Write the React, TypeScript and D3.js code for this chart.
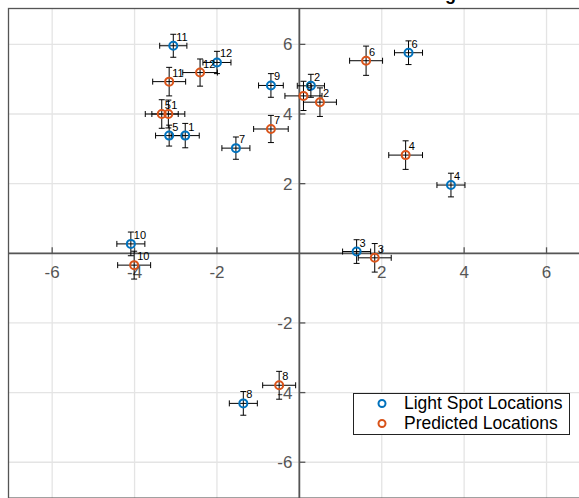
import React from "react";
import * as d3 from "d3";

const ids = ["1", "2", "3", "4", "5", "6", "7", "8", "9", "10", "11", "12"];

// light spot (measured) locations
const spotX = [-2.77, 0.28, 1.39, 3.68, -3.16, 2.65, -1.54, -1.36, -0.69, -4.09, -3.06, -2.0];
const spotY = [3.38, 4.81, 0.05, 1.96, 3.38, 5.76, 3.02, -4.31, 4.82, 0.27, 5.96, 5.48];
const spotErrX = [0.34, 0.33, 0.34, 0.34, 0.33, 0.34, 0.34, 0.34, 0.3, 0.34, 0.33, 0.34];
const spotErrY = [0.35, 0.33, 0.34, 0.34, 0.3, 0.34, 0.32, 0.34, 0.34, 0.34, 0.33, 0.32];

// predicted locations
const predX = [-3.18, 0.5, 1.83, 2.58, -3.34, 1.62, -0.69, -0.49, 0.1, -4.01, -3.16, -2.41];
const predY = [4.0, 4.34, -0.13, 2.82, 4.0, 5.53, 3.57, -3.79, 4.52, -0.34, 4.93, 5.19];
const predErrX = [0.4, 0.4, 0.4, 0.41, 0.4, 0.4, 0.42, 0.4, 0.45, 0.4, 0.4, 0.42];
const predErrY = [0.4, 0.41, 0.41, 0.41, 0.41, 0.42, 0.39, 0.4, 0.42, 0.4, 0.41, 0.39];

const tickVals = [-6, -4, -2, 2, 4, 6];
const gridVals = [-6, -4, -2, 0, 2, 4, 6];
const legendNames = ["Light Spot Locations", "Predicted Locations"];

const W = 579;
const H = 498;
const BLUE = "#0072BD";
const ORANGE = "#D95319";
const FONT = "'Liberation Sans', Arial, Helvetica, sans-serif";

const x = d3.scaleLinear().domain([-7.06, 7.06]).range([8.5, 590.2]);
const y = d3.scaleLinear().domain([-7.03, 7.03]).range([498.1, 8.5]);

type Pt = { id: string; x: number; y: number; ex: number; ey: number };

const makePts = (xs: number[], ys: number[], exs: number[], eys: number[]): Pt[] =>
  ids.map((id, i) => ({ id, x: xs[i], y: ys[i], ex: exs[i], ey: eys[i] }));

const Series = ({ pts, color }: { pts: Pt[]; color: string }) => {
  const cap = 3;
  return (
    <g>
      {pts.map((p) => {
        const cx = x(p.x);
        const cy = y(p.y);
        const x0 = x(p.x - p.ex);
        const x1 = x(p.x + p.ex);
        const y0 = y(p.y + p.ey);
        const y1 = y(p.y - p.ey);
        return (
          <g key={p.id} stroke="#000" strokeWidth={1}>
            <line x1={cx} x2={cx} y1={y0} y2={y1} />
            <line x1={cx - cap} x2={cx + cap} y1={y0} y2={y0} />
            <line x1={cx - cap} x2={cx + cap} y1={y1} y2={y1} />
            <line x1={x0} x2={x1} y1={cy} y2={cy} />
            <line x1={x0} x2={x0} y1={cy - cap} y2={cy + cap} />
            <line x1={x1} x2={x1} y1={cy - cap} y2={cy + cap} />
          </g>
        );
      })}
      {pts.map((p) => (
        <circle key={"m" + p.id} cx={x(p.x)} cy={y(p.y)} r={4} fill="none" stroke={color} strokeWidth={2} />
      ))}
      {pts.map((p) => (
        <text key={"t" + p.id} x={x(p.x) + 3} y={y(p.y) - 5} fontSize={11} fill="#000" fontFamily={FONT}>
          {p.id}
        </text>
      ))}
    </g>
  );
};

export default function App() {
  const spots = makePts(spotX, spotY, spotErrX, spotErrY);
  const preds = makePts(predX, predY, predErrX, predErrY);
  const left = x.range()[0];
  const right = x.range()[1];
  const top = y.range()[1];
  const bottom = y.range()[0];
  const ox = x(0);
  const oy = y(0);
  const axisColor = "#555";
  const labelColor = "#555";

  return (
    <svg width={W} height={H} style={{ position: "absolute", left: 0, top: 0, background: "#fff" }}>
      <rect x={0} y={0} width={W} height={H} fill="#fff" />
      <text x={456} y={-0.5} textAnchor="end" fontSize={18} fontWeight="bold" fontFamily={FONT} fill="#000">
        Localization Results for Testing
      </text>

      {/* grid */}
      {gridVals.map((v) => (
        <line key={"gx" + v} x1={x(v)} x2={x(v)} y1={top} y2={bottom} stroke="#e4e4e4" strokeWidth={1.3} />
      ))}
      {gridVals.map((v) => (
        <line key={"gy" + v} x1={left} x2={right} y1={y(v)} y2={y(v)} stroke="#e4e4e4" strokeWidth={1.3} />
      ))}

      {/* box */}
      <rect x={left} y={top} width={right - left} height={bottom - top} fill="none" stroke={axisColor} strokeWidth={1.3} />

      {/* origin axes */}
      <line x1={left} x2={right} y1={oy} y2={oy} stroke={axisColor} strokeWidth={1.8} />
      <line x1={ox} x2={ox} y1={top} y2={bottom} stroke={axisColor} strokeWidth={1.8} />
      {tickVals.map((v) => (
        <line key={"tx" + v} x1={x(v)} x2={x(v)} y1={oy} y2={oy - 6} stroke={axisColor} strokeWidth={1.3} />
      ))}
      {tickVals.map((v) => (
        <line key={"ty" + v} x1={ox} x2={ox + 6} y1={y(v)} y2={y(v)} stroke={axisColor} strokeWidth={1.3} />
      ))}
      {tickVals.map((v) => (
        <text key={"lx" + v} x={x(v)} y={oy + 25} textAnchor="middle" fontSize={17} fill={labelColor} fontFamily={FONT}>
          {v < 0 ? "-" + Math.abs(v) : String(v)}
        </text>
      ))}
      {tickVals.map((v) => (
        <text key={"ly" + v} x={ox - 7} y={y(v) + 6} textAnchor="end" fontSize={17} fill={labelColor} fontFamily={FONT}>
          {v < 0 ? "-" + Math.abs(v) : String(v)}
        </text>
      ))}

      <Series pts={spots} color={BLUE} />
      <Series pts={preds} color={ORANGE} />

      {/* legend */}
      <g>
        <rect x={353.5} y={393.5} width={216} height={41} fill="#fff" stroke="#222" strokeWidth={1} />
        {legendNames.map((name, i) => (
          <g key={name}>
            <circle cx={382} cy={403.5 + i * 20} r={3.5} fill="none" stroke={i === 0 ? BLUE : ORANGE} strokeWidth={2} />
            <text x={404} y={408.5 + i * 20} fontSize={17.5} fill="#000" fontFamily={FONT}>
              {name}
            </text>
          </g>
        ))}
      </g>
    </svg>
  );
}
